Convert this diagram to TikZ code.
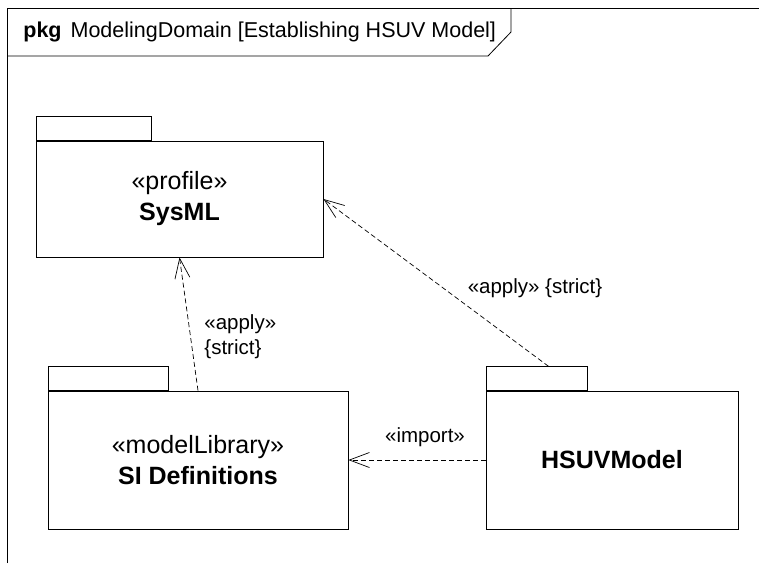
\documentclass[tikz,border=0pt]{standalone}
\usepackage{fontspec}
\setmainfont{Liberation Sans}
\usetikzlibrary{arrows.meta,positioning}
\tikzset{
 pkgbody/.style={draw,line width=.8pt,inner sep=0pt,align=center,font=\fontsize{25}{31}\selectfont},
 pkgtab/.style={draw,line width=.8pt,inner sep=0pt,minimum height=23.5pt,anchor=south west},
 dep/.style={line width=.7pt,dash pattern=on 5pt off 3pt,-{Straight Barb[length=20pt,width=15pt,line width=.7pt]}},
 deplabel/.style={font=\fontsize{20.5}{25}\selectfont,inner sep=1pt,align=left}
}
\begin{document}
\begin{tikzpicture}[x=1pt,y=-1pt,line width=.8pt]
 \useasboundingbox (0,0) rectangle (759,563);
 %% frame and its header
 \draw (7,563) -- (7,8) -- (759,8);
 \draw (7,56) -- (488,56) -- (511,32) -- (511,8);
 \node[anchor=west,inner sep=0pt,font=\fontsize{21.5}{25}\selectfont] (hdr) at (23,32) {\textbf{pkg}\hspace{9pt}ModelingDomain [Establishing HSUV Model]};
 %% packages
 \node[pkgbody,minimum width=287pt,minimum height=116pt] (sysml) at (179.5,199) {«profile»\\\textbf{SysML}};
 \node[pkgtab,minimum width=115pt] (sysmltab) at (sysml.north west) {};
 \node[pkgbody,minimum width=300pt,minimum height=138pt] (sidef) at (198,460) {«modelLibrary»\\\textbf{SI Definitions}};
 \node[pkgtab,minimum width=120pt] (sideftab) at (sidef.north west) {};
 \node[pkgbody,minimum width=252pt,minimum height=138pt] (hsuv) at (612,460) {\textbf{HSUVModel}};
 \node[pkgtab,minimum width=101pt] (hsuvtab) at (hsuv.north west) {};
 %% dependencies
 \draw[dep] (sidef.north) -- (sysml.south);
 \draw[dep] ([xshift=12pt]hsuvtab.north) -- (sysml.east);
 \draw[dep] (hsuv.west) -- (sidef.east);
 \node[deplabel,anchor=west] (lblsid) at (203,337) {«apply»\\\{strict\}};
 \node[deplabel] (lblhsuv) at (535,288) {«apply» \{strict\}};
 \node[deplabel] (lblimp) at (425,437) {«import»};
\end{tikzpicture}
\end{document}
